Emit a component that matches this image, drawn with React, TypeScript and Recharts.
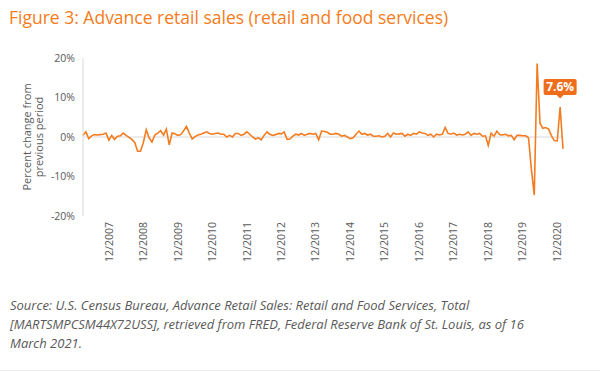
import React from 'react';
import { LineChart, Line, XAxis, YAxis, ReferenceLine, ReferenceDot } from 'recharts';

// monthly % change, retail and food services (Mar 2007 .. Feb 2021)
const y2007 = [0.4, 1.3, -0.4, 0.3, 0.6, 0.5, 0.6, 0.7, 1.0, -0.8];
const y2008 = [0.4, -0.6, 0.2, 0.3, 1.0, 0.4, -0.1, -0.6, -1.4, -3.6, -3.6, -1.4];
const y2009 = [1.8, -0.2, -1.3, 0.5, 1.0, 1.6, 0.5, 2.0, -2.0, 1.0, 0.8, 0.4];
const y2010 = [0.6, 1.6, 2.7, 1.0, -0.5, 0.1, 0.5, 0.7, 1.0, 1.3, 0.9, 0.7];
const y2011 = [0.9, 1.0, 0.7, 0.7, 0.0, 0.4, 0.0, 0.9, 0.9, 0.4, 0.7, 1.3];
const y2012 = [0.7, 0.0, -0.5, -0.2, -0.7, 0.4, 1.3, 0.7, 0.4, 0.6, 0.9, 0.8];
const y2013 = [1.3, -0.6, -0.5, 0.2, 0.7, 0.5, 0.9, 0.4, 0.7, 0.9, 0.7, 0.9];
const y2014 = [-0.7, 1.5, 1.4, 1.2, 0.7, 0.7, 0.9, 0.7, 0.2, 0.4, 0.0, -0.4];
const y2015 = [-0.2, 0.7, 1.5, 0.7, 0.9, 0.5, 0.7, 0.2, 0.2, 0.3, 0.0, 0.2];
const y2016 = [0.9, 0.0, 1.0, 0.7, 0.8, 0.9, 0.2, 0.7, 0.4, 0.9, 0.7, 1.3];
const y2017 = [1.0, 0.9, 0.4, 0.7, 0.0, 0.7, 0.5, 0.7, 2.4, 0.9, 0.7, 1.0];
const y2018 = [0.5, 0.7, 0.5, 0.7, 1.3, 0.4, 0.9, 0.7, 0.9, 0.2, 0.3, -2.1];
const y2019 = [1.0, 0.2, 1.5, 0.6, 0.5, 0.7, 0.3, 0.4, -0.7, 0.4, 0.4, 0.3];
const y2020 = [0.3, -0.2, -8.2, -14.7, 18.6, 3.5, 2.2, 2.4, 2.0, 0.3, -0.9, -1.0];
const y2021 = [7.6, -3.0];

const changes = [
    ...y2007, ...y2008, ...y2009, ...y2010, ...y2011, ...y2012, ...y2013,
    ...y2014, ...y2015, ...y2016, ...y2017, ...y2018, ...y2019, ...y2020, ...y2021,
];

const START_YEAR = 2007;
const START_MONTH = 3;
const monthLabels = changes.map((_, i) => {
    const m = START_MONTH - 1 + i;
    return `${(m % 12) + 1}/${START_YEAR + Math.floor(m / 12)}`;
});

const tickLabels = [
    '12/2007', '12/2008', '12/2009', '12/2010', '12/2011', '12/2012', '12/2013',
    '12/2014', '12/2015', '12/2016', '12/2017', '12/2018', '12/2019', '12/2020',
];
const yTicks = [-20, -10, 0, 10, 20];
const calloutMonth = '1/2021';

const data = changes.map((v, i) => ({ i, month: monthLabels[i], change: v }));
const xTicks = tickLabels.map((t) => monthLabels.indexOf(t));
const calloutIndex = monthLabels.indexOf(calloutMonth);

const ORANGE = '#F47C20';
const CALLOUT = '#EF6E1B';
const GREY_TEXT = '#595959';
const FONT = '"Open Sans", sans-serif';

const XTick = ({ x, y, payload }: any) => (
    <text
        x={x}
        y={y}
        dy="0.35em"
        transform={`rotate(-90, ${x}, ${y})`}
        textAnchor="end"
        fill={GREY_TEXT}
        fontSize={10.5}
        fontFamily={FONT}
    >
        {monthLabels[payload.value]}
    </text>
);

const Callout = ({ cx, cy }: any) => {
    const w = 33;
    const h = 16;
    const top = cy - 28;
    return (
        <g>
            <rect x={cx - w / 2} y={top} width={w} height={h} rx={2} fill={CALLOUT} />
            <path d={`M${cx - 3.5},${top + h} L${cx},${top + h + 3.5} L${cx + 3.5},${top + h} Z`} fill={CALLOUT} />
            <text
                x={cx}
                y={top + h / 2}
                dy="0.36em"
                textAnchor="middle"
                fill="#fff"
                fontSize={12}
                fontWeight={700}
                fontFamily={FONT}
            >
                {`${changes[calloutIndex]}%`}
            </text>
        </g>
    );
};

export default function App() {
    return (
        <div style={{ position: 'absolute', left: 0, top: 0, width: 600, height: 373, background: '#fff', fontFamily: FONT, overflow: 'hidden' }}>
            <div style={{ position: 'absolute', left: 9, top: 7, fontSize: 17.5, lineHeight: '20px', color: ORANGE, whiteSpace: 'nowrap' }}>
                Figure 3: Advance retail sales (retail and food services)
            </div>

            <div style={{ position: 'absolute', left: 0, top: 0 }}>
                <LineChart width={600} height={290} data={data} margin={{ top: 58, right: 37, bottom: 0, left: 0 }}>
                    <XAxis
                        type="number"
                        dataKey="i"
                        domain={[0, changes.length - 1]}
                        ticks={xTicks}
                        interval={0}
                        tick={<XTick />}
                        axisLine={false}
                        tickLine={false}
                        tickSize={4}
                        height={74}
                    />
                    <YAxis
                        type="number"
                        domain={[-20, 20]}
                        ticks={yTicks}
                        tickFormatter={(v) => `${v}%`}
                        axisLine={{ stroke: '#d9d9d9' }}
                        tickLine={false}
                        tick={{ fill: GREY_TEXT, fontSize: 10.5, fontFamily: FONT }}
                        width={83}
                    />
                    <ReferenceLine y={0} stroke="#d9d9d9" strokeWidth={1} />
                    <Line
                        type="linear"
                        dataKey="change"
                        stroke={ORANGE}
                        strokeWidth={1.6}
                        dot={false}
                        isAnimationActive={false}
                    />
                    <ReferenceDot x={calloutIndex} y={changes[calloutIndex]} r={0} shape={<Callout />} />
                </LineChart>
            </div>

            <svg width={60} height={290} style={{ position: 'absolute', left: 0, top: 0 }}>
                <text x={31} y={137} transform="rotate(-90, 31, 137)" textAnchor="middle" fill={GREY_TEXT} fontSize={11} fontFamily={FONT}>
                    Percent change from
                </text>
                <text x={43} y={137} transform="rotate(-90, 43, 137)" textAnchor="middle" fill={GREY_TEXT} fontSize={11} fontFamily={FONT}>
                    previous period
                </text>
            </svg>

            <div style={{ position: 'absolute', left: 10, top: 296, fontSize: 13, lineHeight: '19px', fontStyle: 'italic', color: GREY_TEXT, whiteSpace: 'nowrap' }}>
                <div>Source: U.S. Census Bureau, Advance Retail Sales: Retail and Food Services, Total</div>
                <div>[MARTSMPCSM44X72USS], retrieved from FRED, Federal Reserve Bank of St. Louis, as of 16</div>
                <div>March 2021.</div>
            </div>

            <div style={{ position: 'absolute', left: 0, top: 370, width: 600, height: 1, background: '#ececec' }} />
        </div>
    );
}
